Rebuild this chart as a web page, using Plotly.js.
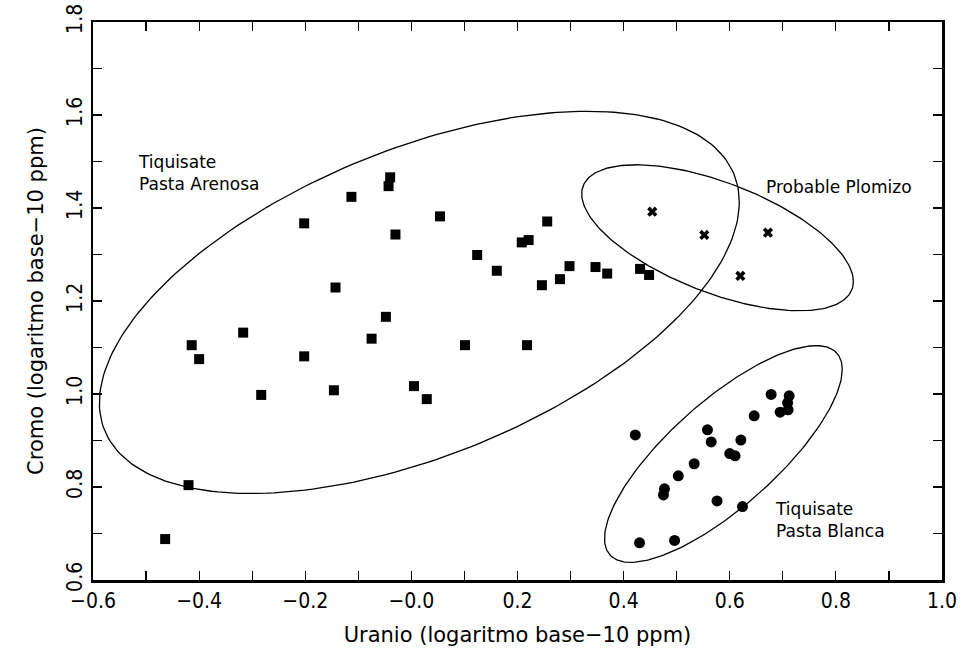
<!DOCTYPE html>
<html>
<head>
<meta charset="utf-8">
<script src="https://cdn.plot.ly/plotly-3.0.1.min.js"></script>
<style>html,body{margin:0;padding:0;background:#fff;}#chart{width:963px;height:656px;}</style>
</head>
<body>
<div id="chart"></div>
<script>
// --- Data (log10 ppm) ---
const arenosaU  = [-0.464,-0.420,-0.414,-0.400,-0.317,-0.283,-0.202,-0.202,-0.143,-0.146,-0.113,-0.075,-0.048,-0.040,-0.043,-0.030,0.005,0.029,0.054,0.101,0.124,0.161,0.208,0.221,0.218,0.246,0.256,0.280,0.298,0.347,0.369,0.431,0.448];
const arenosaCr = [0.688,0.804,1.105,1.075,1.132,0.998,1.367,1.081,1.229,1.008,1.424,1.119,1.166,1.466,1.447,1.343,1.017,0.989,1.382,1.105,1.299,1.265,1.326,1.331,1.105,1.234,1.371,1.247,1.275,1.273,1.259,1.269,1.256];

const plomizoU  = [0.454,0.552,0.672,0.620];
const plomizoCr = [1.392,1.342,1.347,1.254];

const blancaU  = [0.678,0.712,0.709,0.710,0.695,0.646,0.422,0.558,0.565,0.621,0.600,0.610,0.533,0.503,0.477,0.475,0.576,0.624,0.430,0.496];
const blancaCr = [0.999,0.996,0.981,0.966,0.961,0.953,0.912,0.923,0.897,0.901,0.872,0.867,0.850,0.824,0.796,0.783,0.770,0.758,0.680,0.685];

// Group ellipses: centre, half-extent along each axis, correlation
const ellipseNames   = ["Arenosa","Plomizo","Blanca"];
const ellipseCenterU = [0.015, 0.577, 0.588];
const ellipseCenterCr= [1.197, 1.336, 0.871];
const ellipseHalfU   = [0.603, 0.256, 0.224];
const ellipseHalfCr  = [0.411, 0.157, 0.233];
const ellipseCorr    = [0.525, -0.60, 0.78];

// Group labels
const labelTexts = ["Tiquisate<br>Pasta Arenosa","Probable Plomizo","Tiquisate<br>Pasta Blanca"];
const labelU     = [-0.519, 0.665, 0.682];
const labelCr    = [1.476, 1.445, 0.730];

// Axis ticks
const xTickVals = [-0.6,-0.5,-0.4,-0.3,-0.2,-0.1,0.0,0.1,0.2,0.3,0.4,0.5,0.6,0.7,0.8,0.9,1.0];
const xTickText = ["\u22120.6","","\u22120.4","","\u22120.2","","\u22120.0","","0.2","","0.4","","0.6","","0.8","","1.0"];
const yTickVals = [0.6,0.7,0.8,0.9,1.0,1.1,1.2,1.3,1.4,1.5,1.6,1.7,1.8];
const yTickText = ["0.6","","0.8","","1.0","","1.2","","1.4","","1.6","","1.8"];

// --- Build traces ---
function ellipseTrace(i){
  const xs=[], ys=[];
  const n=240, r=ellipseCorr[i], s=Math.sqrt(1-r*r);
  for(let k=0;k<=n;k++){
    const t=2*Math.PI*k/n;
    xs.push(ellipseCenterU[i] + ellipseHalfU[i]*Math.cos(t));
    ys.push(ellipseCenterCr[i] + ellipseHalfCr[i]*(r*Math.cos(t) + s*Math.sin(t)));
  }
  return {x:xs,y:ys,mode:'lines',type:'scatter',name:ellipseNames[i],
          line:{color:'#000',width:1.3},hoverinfo:'skip',showlegend:false};
}

const traces = [
  ellipseTrace(0), ellipseTrace(1), ellipseTrace(2),
  {x:arenosaU,y:arenosaCr,mode:'markers',type:'scatter',name:'Tiquisate Pasta Arenosa',
   marker:{symbol:'square',size:10,color:'#000'}},
  {x:plomizoU,y:plomizoCr,mode:'markers',type:'scatter',name:'Probable Plomizo',
   marker:{symbol:'x',size:9,color:'#000'}},
  {x:blancaU,y:blancaCr,mode:'markers',type:'scatter',name:'Tiquisate Pasta Blanca',
   marker:{symbol:'circle',size:11,color:'#000'}}
];

const tickFont = {family:'"Liberation Sans Narrow","DejaVu Sans Condensed","DejaVu Sans",sans-serif',size:21,color:'#000'};
const titleFont = {family:'"DejaVu Sans",sans-serif',size:21,color:'#000'};

const annotations = labelTexts.map((t,i)=>({
  x:labelU[i], y:labelCr[i], xref:'x', yref:'y', text:t, showarrow:false,
  xanchor:'left', yanchor:'middle', align:'left',
  font:{family:'"DejaVu Sans",sans-serif',size:17,color:'#000'}
}));

const layout = {
  width:963, height:656,
  margin:{l:93,r:21,t:22,b:76,pad:0},
  paper_bgcolor:'#fff', plot_bgcolor:'#fff',
  showlegend:false,
  xaxis:{
    range:[-0.6,1.0], autorange:false,
    tickmode:'array', tickvals:xTickVals, ticktext:xTickText,
    ticks:'inside', ticklen:9, tickwidth:1.2, tickcolor:'#000',
    showline:true, linecolor:'#000', linewidth:2.5, mirror:'allticks',
    showgrid:false, zeroline:false,
    tickfont:tickFont, automargin:false,
    title:{text:'Uranio (logaritmo base\u221210 ppm)', font:titleFont, standoff:16}
  },
  yaxis:{
    range:[0.6,1.8], autorange:false,
    tickmode:'array', tickvals:yTickVals, ticktext:yTickText,
    ticks:'inside', ticklen:9, tickwidth:1.2, tickcolor:'#000',
    showline:true, linecolor:'#000', linewidth:2.5, mirror:'allticks',
    showgrid:false, zeroline:false,
    tickangle:-90,
    tickfont:tickFont, automargin:false,
    title:{text:'Cromo (logaritmo base\u221210 ppm)', font:titleFont, standoff:14}
  },
  annotations:annotations
};

Plotly.newPlot('chart', traces, layout, {displayModeBar:false, staticPlot:true});
</script>
</body>
</html>
